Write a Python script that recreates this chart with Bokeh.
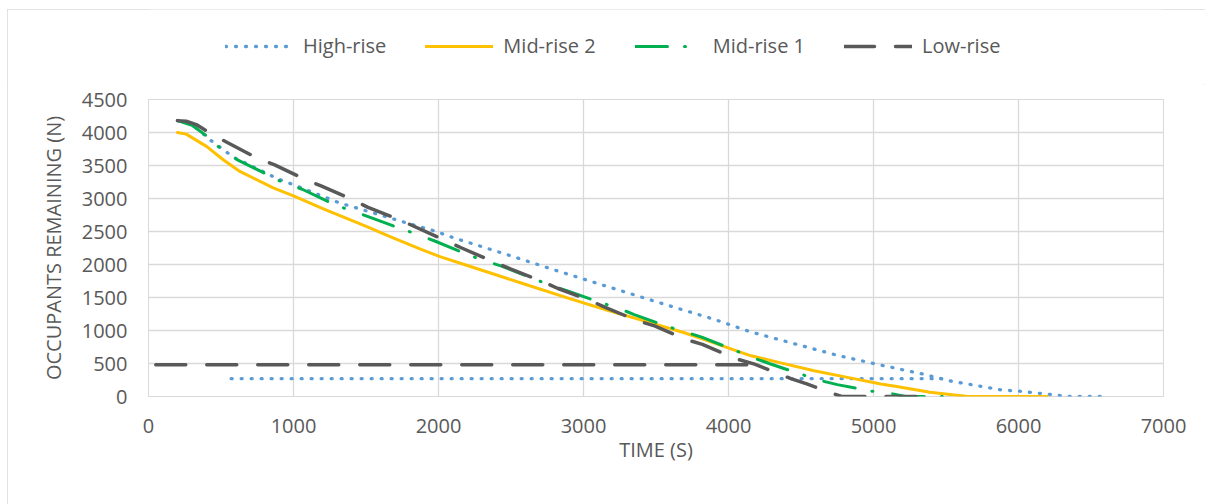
from bokeh.plotting import figure
from bokeh.layouts import column
from bokeh.models import Range1d, FixedTicker, Legend, LegendItem
from bokeh.embed import file_html
from bokeh.resources import INLINE

# ---- data (time in s, occupants remaining) ----
high_t = [200, 300, 430, 540, 600, 890, 1010, 1320, 1460, 1780, 1970, 2110, 2430, 2810, 3130,
          3510, 3900, 4150, 4420, 4740, 5000, 5340, 5540, 5740, 5880, 6010, 6220, 6350, 6620]
high_n = [4180, 4120, 3880, 3700, 3610, 3300, 3200, 2930, 2840, 2630, 2510, 2400, 2180, 1910, 1690,
          1430, 1170, 980, 820, 630, 500, 340, 230, 155, 100, 80, 30, 0, 0]
high_flat_t = [570, 5470]
high_flat_n = [270, 270]

mid2_t = [200, 260, 400, 520, 630, 860, 1000, 1210, 1320, 1510, 1670, 1880, 2010, 2220, 2570,
          2910, 3160, 3490, 3690, 3810, 4150, 4360, 4590, 4820, 5050, 5160, 5390, 5650, 6200]
mid2_n = [4000, 3975, 3790, 3580, 3410, 3160, 3040, 2840, 2740, 2570, 2420, 2230, 2120, 1970, 1720,
          1480, 1310, 1100, 970, 880, 620, 510, 390, 290, 190, 150, 65, 0, 0]

mid1_t = [200, 300, 400, 500, 610, 830, 930, 1060, 1270, 1390, 1510, 1730, 1850, 1970, 2190, 2310,
          2430, 2660, 2770, 2890, 3120, 3240, 3350, 3580, 3700, 3820, 4050, 4160, 4280, 4510, 4620,
          4750, 4990, 5110, 5220, 5610]
mid1_n = [4180, 4110, 3950, 3750, 3590, 3350, 3240, 3140, 2920, 2820, 2730, 2550, 2460, 2360, 2160, 2060,
          1980, 1780, 1690, 1600, 1420, 1340, 1240, 1060, 980, 895, 695, 595, 500, 330, 250,
          180, 80, 50, 0, 0]

low_t = [200, 260, 330, 440, 550, 750, 870, 1070, 1190, 1400, 1510, 1740, 1830, 2010, 2160, 2380,
         2500, 2720, 2820, 3040, 3150, 3370, 3490, 3700, 3820, 4040, 4180, 4430, 4540, 4700, 4780, 5330]
low_n = [4180, 4170, 4120, 3970, 3840, 3610, 3510, 3300, 3190, 2990, 2870, 2670, 2580, 2400, 2250, 2040,
         1930, 1740, 1640, 1460, 1350, 1150, 1070, 870, 790, 580, 490, 270, 190, 60, 0, 0]
low_flat_t = [50, 4180]
low_flat_n = [480, 480]

names = ["High-rise", "Mid-rise 2", "Mid-rise 1", "Low-rise"]
x_ticks = [0, 1000, 2000, 3000, 4000, 5000, 6000, 7000]
y_ticks = [0, 500, 1000, 1500, 2000, 2500, 3000, 3500, 4000, 4500]

TXT = "#595959"
FONT = "Open Sans"
W = 3
styles = [
    dict(line_color="#5B9BD5", line_width=W + 0.3, line_dash="1 9", line_cap="round"),
    dict(line_color="#FFC000", line_width=W, line_cap="round", line_join="round"),
    dict(line_color="#00B050", line_width=W, line_dash="32 17 1 20", line_cap="round"),
    dict(line_color="#595959", line_width=W + 0.5, line_dash="30 21", line_cap="round"),
]

# ---- main chart ----
p = figure(width=1198, height=420, output_backend="svg", toolbar_location=None,
           x_range=Range1d(0, 7000), y_range=Range1d(0, 4500),
           min_border_left=141, min_border_right=42, min_border_top=15, min_border_bottom=108)
p.background_fill_color = "white"
p.border_fill_color = "white"
p.outline_line_color = "#d9d9d9"
p.outline_line_width = 1

p.xaxis.ticker = FixedTicker(ticks=x_ticks)
p.yaxis.ticker = FixedTicker(ticks=y_ticks)
for ax in (p.xaxis[0], p.yaxis[0]):
    ax.axis_line_color = None
    ax.major_tick_line_color = None
    ax.minor_tick_line_color = None
    ax.major_tick_out = 0
    ax.major_tick_in = 0
    ax.major_label_text_font = FONT
    ax.major_label_text_font_size = "20px"
    ax.major_label_text_color = TXT
    ax.axis_label_text_font = FONT
    ax.axis_label_text_font_size = "20px"
    ax.axis_label_text_color = TXT
    ax.axis_label_text_font_style = "normal"
p.xaxis.axis_label = "TIME (S)"
p.yaxis.axis_label = "OCCUPANTS REMAINING (N)"
p.xaxis.major_label_standoff = 22
p.yaxis.major_label_standoff = 21
p.xaxis.axis_label_standoff = 0
p.yaxis.axis_label_standoff = 12
p.grid.grid_line_color = "#d9d9d9"
p.grid.grid_line_width = 1.3

p.line(high_t, high_n, **styles[0])
p.line(high_flat_t, high_flat_n, **styles[0])
p.line(mid2_t, mid2_n, **styles[1])
p.line(mid1_t, mid1_n, **styles[2])
p.line(low_t, low_n, **styles[3])
p.line(low_flat_t, low_flat_n, **styles[3])

# ---- legend strip above the chart ----
lf = figure(width=1198, height=75, output_backend="svg", toolbar_location=None,
            x_range=Range1d(0, 1), y_range=Range1d(0, 1), x_axis_type=None, y_axis_type=None,
            min_border=0)
lf.grid.visible = False
lf.outline_line_color = None
lf.background_fill_color = "white"
lf.border_fill_color = "white"
# swatch renderers lie outside the visible range; they only feed the legend
swatches = [lf.line([5, 6], [5, 6], **s) for s in styles]
legend = Legend(items=[LegendItem(label=n, renderers=[r]) for n, r in zip(names, swatches)],
                orientation="horizontal", location=(77, 25))
legend.glyph_width = 68
legend.glyph_height = 20
legend.label_height = 20
legend.label_standoff = 10
legend.spacing = 39
legend.padding = 0
legend.margin = 0
legend.border_line_color = None
legend.background_fill_alpha = 0
legend.label_text_font = FONT
legend.label_text_font_size = "20px"
legend.label_text_color = TXT
lf.add_layout(legend, "center")

layout = column(lf, p, spacing=0,
                styles={"margin-left": "7px", "margin-top": "9px",
                        "outline": "1px solid #d9d9d9", "outline-offset": "-1px"})

open("out.html", "w").write(file_html(layout, INLINE))
